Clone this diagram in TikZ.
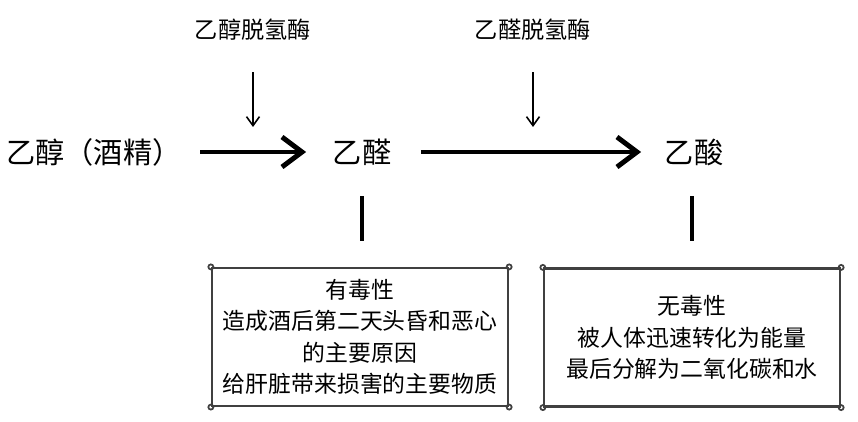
\documentclass[tikz,border=0pt]{standalone}
\usepackage{fontspec}
\setmainfont{Noto Sans CJK SC}
\usetikzlibrary{arrows.meta}

\begin{document}
\begin{tikzpicture}[x=0.01cm, y=-0.01cm,
    chem/.style={font=\fontsize{8.3}{10}\selectfont, inner sep=0pt},
    enzyme/.style={font=\fontsize{6.6}{8}\selectfont, inner sep=0pt},
    react/.style={line width=1.4pt, -{Straight Barb[length=0.2cm, width=0.3cm]}},
    catal/.style={line width=0.45pt, -{Straight Barb[length=0.09cm, width=0.13cm]}},
    link/.style={line width=1.4pt},
    memo/.style={draw=black!75, line width=0.6pt, minimum width=2.96cm, minimum height=1.38cm,
        align=center, inner sep=0pt, font=\fontsize{6.5}{8.9}\selectfont}]
    \useasboundingbox (0,0) rectangle (858,422);

    % Substances
    \node[chem] (ethanol) at (94,152) {乙醇（酒精）};
    \node[chem] (acetal) at (362,152) {乙醛};
    \node[chem] (acetic) at (694,152) {乙酸};

    % Enzymes
    \node[enzyme] (enzA) at (253,30) {乙醇脱氢酶};
    \node[enzyme] (enzB) at (533,30) {乙醛脱氢酶};
    \coordinate (tipA) at (253,127);
    \coordinate (tipB) at (533,127);

    % Reactions
    \draw[react, shorten <=0.18cm, shorten >=0.26cm] (ethanol) -- (acetal);
    \draw[react, shorten <=0.29cm, shorten >=0.23cm] (acetal) -- (acetic);
    \draw[catal, shorten <=0.31cm] (enzA) -- (tipA);
    \draw[catal, shorten <=0.31cm] (enzB) -- (tipB);

    % Notes
    \node[memo] (toxic) at (360,337) {有毒性\\造成酒后第二天头昏和恶心\\的主要原因\\给肝脏带来损害的主要物质};
    \node[memo] (nontoxic) at (692,337.5) {无毒性\\被人体迅速转化为能量\\最后分解为二氧化碳和水};
    \foreach \c in {north west, north east, south west, south east} {
        \draw[black!75, line width=0.5pt] (toxic.\c) circle[radius=0.025cm];
        \draw[black!75, line width=0.5pt] (nontoxic.\c) circle[radius=0.025cm];
    }

    % Links to notes
    \draw[link, shorten <=0.3cm, shorten >=0.26cm] (acetal.south) -- (acetal.south |- toxic.north);
    \draw[link, shorten <=0.3cm, shorten >=0.26cm] (acetic.south -| nontoxic.north) -- (nontoxic.north);
\end{tikzpicture}
\end{document}
